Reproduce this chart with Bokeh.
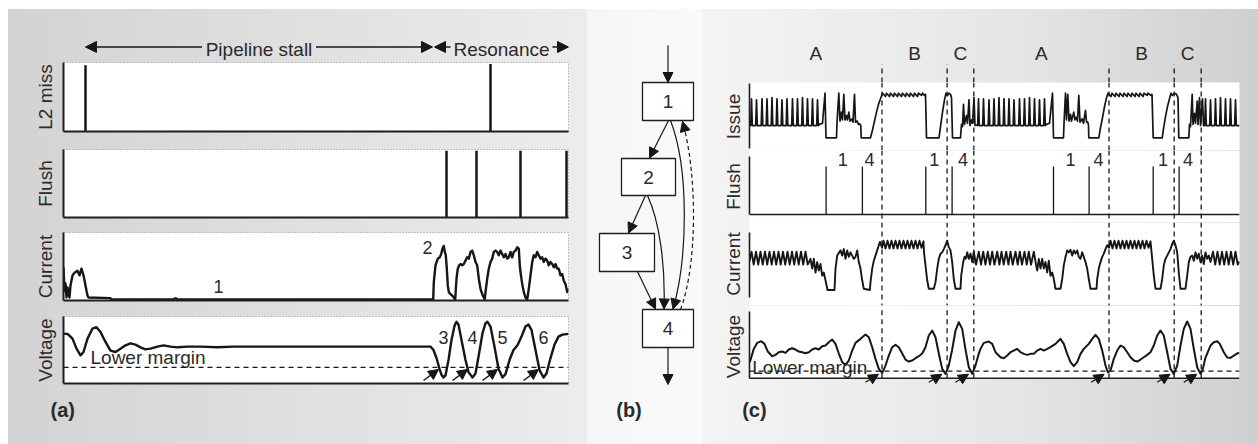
import numpy as np
from bokeh.plotting import figure
from bokeh.layouts import row, column
from bokeh.models import (Range1d, FixedTicker, LinearAxis, Arrow, NormalHead,
                          Span, Spacer, BoxAnnotation)
from bokeh.core.properties import value
from bokeh.embed import file_html
from bokeh.resources import INLINE

FONT = "Liberation Sans"
INK = "#161616"
TXT = "#2a2a2a"
AXC = "#1e1e1e"

# ======================= DATA =======================
# ---- panel (a): time (arbitrary cycles), signals normalised 0..1
a_t_span = [0, 505]
a_l2_miss_t = [22, 427]
a_l2_miss_v = [0.96, 0.98]
a_flush_t = [383, 413, 457, 503]
a_flush_v = [0.98, 0.98, 0.98, 0.98]
a_phase_names = ["Pipeline stall", "Resonance"]
a_phase_start = [22, 371]
a_phase_end = [369, 505]
a_current_pts = [(0,0.48),(1,0.13),(2,0.24),(3,0.03),(4,0.18),(6,0.03),(7,0.21),(9,0.36),(11,0.40),
    (14,0.43),(16,0.36),(18,0.46),(20,0.36),(22,0.21),(23,0.13),(24,0.06),(25,0.03),(47,0.02),(48,0),
    (110,0),(111,0.015),(113,0.015),(114,0),(369.7,0),(370.3,0.26),(372,0.51),(374.3,0.61),(376.3,0.63),
    (377.7,0.68),(379,0.76),(380.3,0.80),(381.3,0.71),(382.3,0.66),(383.3,0.46),(384.3,0.21),(385.3,0.11),
    (387,0.08),(388.7,0.06),(390.3,0.03),(391.7,0),(393,0.31),(394.3,0.46),(395.7,0.51),(397,0.53),
    (398.7,0.51),(400.3,0.53),(402,0.58),(403.7,0.63),(405.3,0.61),(407,0.71),(408.7,0.73),(410.3,0.66),
    (412,0.56),(413.7,0.51),(415.3,0.31),(417,0.16),(418.7,0.08),(420.3,0.03),(421.3,0),(422,0.11),
    (423.7,0.31),(425.3,0.46),(427,0.56),(428.7,0.61),(430.3,0.71),(432,0.73),(433.7,0.71),(435.3,0.66),
    (437,0.73),(438.7,0.68),(440.3,0.63),(442,0.68),(443.7,0.61),(445.3,0.63),(447,0.71),(448.7,0.63),
    (450.3,0.71),(452,0.73),(453.7,0.78),(455.3,0.76),(456.3,0.51),(457,0.41),(458.7,0.23),(460.3,0.11),
    (462,0.03),(463.7,0),(465.3,0.16),(467,0.36),(468.7,0.56),(470.3,0.66),(472,0.63),(473.7,0.71),
    (475.3,0.66),(477,0.61),(478.7,0.63),(480.3,0.56),(482,0.61),(483.7,0.58),(485.3,0.51),(487,0.56),
    (488.7,0.53),(490.3,0.48),(492,0.53),(493.7,0.46),(495.3,0.46),(497,0.36),(498.7,0.38),(500.3,0.28),
    (502,0.23),(503.7,0.11),(504.7,0.16)]
a_current_notes = ["1", "2"]
a_current_note_t = [155, 364]
a_current_note_v = [0.19, 0.78]
a_voltage_pts = [(0,0.74),(4,0.74),(9,0.67),(13,0.52),(17,0.42),(20,0.47),(24,0.67),(29,0.82),(33,0.84),
    (37,0.77),(42,0.62),(47,0.49),(52,0.47),(57,0.52),(62,0.57),(67,0.60),(72,0.58),(77,0.54),(82,0.51),
    (87,0.52),(94,0.55),(100,0.57),(107,0.55),(114,0.54),(124,0.55),(137,0.55),(154,0.54),(170,0.55),
    (367,0.55),(370,0.50),(373,0.38),(376,0.22),(378,0.13),(380,0.09),(382,0.12),(385,0.35),(388,0.65),
    (391,0.86),(393,0.92),(395,0.88),(398,0.65),(402,0.35),(405,0.17),(409,0.09),(412,0.15),(415,0.40),
    (419,0.75),(422,0.90),(424,0.92),(427,0.85),(431,0.55),(435,0.22),(439,0.09),(442,0.14),(446,0.35),
    (450,0.50),(454,0.57),(458,0.70),(462,0.85),(465,0.88),(468,0.80),(472,0.50),(476,0.20),(480,0.09),
    (483,0.15),(487,0.38),(491,0.58),(495,0.70),(499,0.73),(505,0.74)]
a_lower_margin = 0.24
a_violation_t = [380, 409, 439, 480]
a_violation_notes = ["3", "4", "5", "6"]

# ---- panel (c): repeating A/B/C program phases
c_t_span = [0, 490]
c_phase_bounds = [0, 132.5, 197.6, 224.3, 359.5, 424.7, 451.7]
c_phase_names = ["A", "B", "C", "A", "B", "C"]
c_issue_spike_t = [2, 7, 12.5, 17.5, 22.5, 27.5, 32.5, 37.5, 43, 48, 53, 58, 63, 68,
                   229, 234, 239.5, 244.5, 249.5, 254.5, 259.5, 264.5, 270, 275, 280, 285, 290, 295,
                   456, 461, 466, 471, 476, 481, 486]
c_issue_spike_v = [3.5, 3.4, 3.5, 3.5, 3.6, 3.5, 3.4, 3.5, 3.5, 3.5, 3.6, 3.5, 3.5, 3.4,
                   3.5, 3.5, 3.4, 3.5, 3.6, 3.5, 3.5, 3.4, 3.5, 3.5, 3.6, 3.5, 3.4, 3.5,
                   3.5, 3.4, 3.5, 3.6, 3.5, 3.5, 3.4]
c_issue_trough = 1.1
c_issue_pts = [(0,1.1),(70,1.2),(73,1.3),(75.5,4.0),(76.5,0),(87,0),(87.5,1.3),(89.3,4.0),(90.5,1.5),
    (92,2.3),(93,1.6),(94.3,3.9),(95.5,1.6),(97,2.0),(98,1.6),(99.3,2.3),(100.5,1.5),(102.7,1.7),
    (103.5,1.4),(105,3.9),(106,1.4),(107.7,1.5),(109,1.2),(110.3,1.25),(111.3,1.1),(111.7,0),(121,0),
    (123,0.7),(125,1.5),(127,2.3),(129,3.0),(131,3.5),(133,4.0),(136,3.7),(137,4.0),(140,3.7),(141,4.0),
    (144,3.7),(145,4.0),(148,3.7),(149,4.0),(152,3.7),(153,4.0),(156,3.7),(157,4.0),(160,3.7),(161,4.0),
    (164,3.7),(165,4.0),(168,3.7),(169,4.0),(172,3.8),(173,4.0),(175,3.8),(176,3.9),(177,0),(189.5,0),
    (191,1.0),(193,2.3),(195,3.4),(196.5,4.0),(198,3.8),(199.5,4.0),(201,3.9),(202,3.6),(203,0),(211,0),
    (212,1.2),(213,1.0),(214,3.0),(215,1.2),(217,2.0),(218,1.3),(219.5,3.4),(220.5,1.1),(222,1.6),
    (223,1.3),(224.5,3.6),(225.5,1.1),(227.5,1.15),
    (297,1.2),(300,1.3),(303,4.0),(304,0),(314,0),(314.5,1.3),(316,4.0),(317,1.6),(318.3,3.9),(319.5,1.5),
    (321,2.1),(322,1.5),(324.3,2.3),(325.5,1.6),(327,1.85),(328,1.5),(329.3,3.8),(330.5,1.4),(332.7,1.7),
    (334,1.3),(336,2.45),(337,1.4),(338.3,1.4),(339,1.1),(339.3,0),(349.3,0),(351,0.9),(353,1.8),(355,2.8),
    (357,3.6),(358.5,4.0),(361.5,3.7),(362.5,4.0),(365.5,3.7),(366.5,4.0),(369.5,3.7),(370.5,4.0),
    (373.5,3.7),(374.5,4.0),(377.5,3.7),(378.5,4.0),(381.5,3.7),(382.5,4.0),(385.5,3.7),(386.5,4.0),
    (389.5,3.7),(390.5,4.0),(393.5,3.7),(394.5,4.0),(397.5,3.8),(398.5,4.0),(401.5,3.8),(402.5,3.9),
    (403.7,0),(412.7,0),(414,0.8),(416,1.9),(418,2.8),(420,3.5),(421.5,4.0),(423,3.8),(425,4.0),(427,3.9),
    (428.5,3.6),(429.3,0),(439.3,0),(440,1.2),(441,1.0),(442.7,3.9),(443.5,1.2),(445,2.2),(446,1.3),
    (447.7,3.3),(448.5,1.2),(450,3.6),(451,1.1),(453,3.5),(454,1.1),(490,1.1)]
c_flush_t = [76.6, 112.9, 176.3, 202.6, 304, 339.6, 403.7, 429.6]
c_flush_notes = ["1", "4", "1", "4", "1", "4", "1", "4"]
c_flush_note_t = [93.3, 120, 184.8, 213.6, 321, 348.9, 413.6, 438.5]
c_current_peak_t = [2, 6.5, 11, 15.5, 20, 24.5, 29, 33.5, 38, 42.5, 47, 51.5, 56,
                    224.3, 229.3, 233.7, 238.3, 242.7, 247.7, 252, 256.7, 261, 266, 270.3, 275, 279.3, 284.3,
                    463.5, 468, 472.5, 477, 481.5, 486]
c_current_peak = 0.70
c_current_trough = 0.50
c_current_pts = [(0,0.55),
    (61,0.59),(62.7,0.44),(64.3,0.59),(66,0.38),(67.7,0.54),(69.3,0.41),(71,0.51),(72.7,0.33),(74.3,0.38),
    (76,0.26),(78,0.11),(85,0.11),(86,0.44),(87.7,0.64),(91,0.72),(92.7,0.64),(94.3,0.74),(96,0.59),
    (97.7,0.72),(99.3,0.62),(101,0.69),(104.3,0.59),(106,0.62),(107.7,0.72),(109.3,0.54),(111,0.44),
    (112.7,0.26),(114.3,0.13),(120.3,0.11),(121,0.23),(122.7,0.44),(124.3,0.56),(126,0.64),(127.7,0.72),
    (129.3,0.80),(130.5,0.85),(132.5,0.76),(134,0.87),(136,0.75),(138,0.87),(140,0.75),(142,0.87),
    (144,0.75),(146,0.87),(148,0.75),(150,0.87),(152,0.75),(154,0.87),(156,0.75),(158,0.87),(160,0.75),
    (162,0.87),(164,0.75),(166,0.87),(168,0.75),(170,0.87),(172,0.76),(174,0.86),(174.5,0.69),(176,0.49),
    (177.7,0.26),(179.3,0.13),(184.3,0.13),(186,0.23),(187.7,0.44),(189.3,0.59),(191,0.67),(192.7,0.69),
    (194.3,0.74),(196,0.80),(197.7,0.87),(199.3,0.77),(201,0.72),(202.7,0.54),(204.3,0.28),(206,0.13),
    (211,0.13),(211.7,0.33),(213.7,0.54),(215,0.62),(216.3,0.59),(217.7,0.69),(219.3,0.59),(221,0.67),
    (222.7,0.54),
    (287.7,0.41),(289.3,0.59),(291,0.44),(292.7,0.59),(294.3,0.44),(296,0.54),(297.7,0.38),(299.3,0.56),
    (301,0.33),(302.7,0.38),(304.3,0.28),(306,0.13),(311,0.13),(312.7,0.28),(314.3,0.49),(316,0.62),
    (317.7,0.72),(319.3,0.69),(321,0.73),(322.7,0.64),(324.3,0.72),(326,0.67),(327.7,0.72),(329.3,0.62),
    (331,0.59),(332.7,0.69),(334.3,0.62),(336,0.54),(337.7,0.44),(339.3,0.28),(341,0.13),(347,0.13),
    (347.7,0.28),(349.3,0.44),(351,0.54),(352.7,0.62),(354.3,0.67),(356,0.74),(357.7,0.80),(359.5,0.76),
    (361,0.87),(363,0.75),(365,0.87),(367,0.75),(369,0.87),(371,0.75),(373,0.87),(375,0.75),(377,0.87),
    (379,0.75),(381,0.87),(383,0.75),(385,0.87),(387,0.75),(389,0.87),(391,0.75),(393,0.87),(395,0.75),
    (397,0.87),(399,0.76),(401,0.86),(402.7,0.59),(404.3,0.33),(406,0.13),(411,0.13),(412.7,0.28),
    (414.3,0.49),(416,0.59),(417.7,0.64),(419.3,0.69),(421,0.74),(422.7,0.82),(424.3,0.87),(426,0.80),
    (427.7,0.69),(429.3,0.38),(431,0.13),(436,0.13),(437.7,0.33),(439.3,0.54),(441,0.62),(442.7,0.64),
    (444.3,0.56),(446,0.69),(447.7,0.59),(449.3,0.67),(451,0.54),(452.7,0.64),(454.3,0.51),(456,0.69),
    (457.7,0.59),(459.3,0.64),(461,0.54),(490,0.55)]
c_voltage_pts = [(0.3,0.24),(4.3,0.44),(7.7,0.53),(11.7,0.555),(15,0.515),(18.3,0.40),(22.7,0.33),(26,0.35),
    (29.3,0.39),(32.7,0.40),(36,0.38),(39.3,0.43),(42.7,0.45),(46,0.43),(49.3,0.40),(52.7,0.39),(56,0.375),
    (59.3,0.39),(62.7,0.43),(66,0.45),(69.3,0.43),(72.7,0.48),(76,0.49),(79.3,0.54),(82.7,0.58),(86,0.515),
    (89.3,0.37),(92.7,0.24),(96,0.20),(99.3,0.265),(102.7,0.415),(106,0.53),(111,0.59),(116,0.655),
    (119.3,0.615),(122.7,0.465),(126,0.29),(129.3,0.14),(132.7,0.08),(136,0.19),(139.3,0.34),(142.7,0.465),
    (146,0.50),(149.3,0.465),(152.7,0.37),(156,0.28),(159.3,0.25),(162.7,0.265),(166,0.30),(169.3,0.33),
    (172.7,0.37),(176,0.465),(179.3,0.64),(182.7,0.715),(186,0.615),(189.3,0.37),(192.7,0.14),(196,0.066),
    (199.3,0.19),(202.7,0.43),(206,0.715),(209.3,0.84),(212.7,0.74),(216,0.43),(219.3,0.165),(222.7,0.066),
    (226,0.19),(229.3,0.37),(231,0.44),(234.3,0.53),(239.3,0.55),(242.7,0.515),(246,0.39),(251,0.315),
    (254.3,0.30),(257.7,0.34),(261,0.39),(264.3,0.415),(267.7,0.44),(271,0.39),(274.3,0.365),(277.7,0.35),
    (281,0.365),(284.3,0.365),(287.7,0.415),(291,0.44),(294.3,0.415),(297.7,0.44),(301,0.465),(306,0.515),
    (309.3,0.565),(311,0.59),(314.3,0.515),(317.7,0.365),(321,0.24),(324.3,0.18),(327.7,0.24),(331,0.365),
    (334.3,0.44),(339.3,0.515),(342.7,0.59),(346,0.65),(349.3,0.59),(352.7,0.415),(356,0.19),(358.3,0.09),
    (361,0.115),(364.3,0.29),(367.7,0.415),(371,0.49),(374.3,0.465),(377.7,0.39),(381,0.315),(384.3,0.265),
    (387.7,0.25),(391,0.28),(394.3,0.315),(397.7,0.35),(401,0.39),(404.3,0.49),(407.7,0.64),(411,0.715),
    (414.3,0.64),(417.7,0.39),(421,0.14),(424.3,0.066),(427.7,0.19),(431,0.49),(434.3,0.74),(437.7,0.85),
    (441,0.74),(444.3,0.44),(447.7,0.165),(451,0.066),(453,0.12),(456,0.31),(461,0.49),(464.3,0.54),
    (467.7,0.555),(470.3,0.515),(474.3,0.39),(477.7,0.31),(481,0.305),(484.3,0.34),(488.3,0.375),(490,0.38)]
c_lower_margin = 0.105
c_violation_t = [132.7, 196, 222.7, 358.3, 424.3, 451]

# ---- panel (b): control-flow diagram
b_nodes = ["1", "2", "3", "4"]
b_edges_straight = [("in", "1"), ("1", "2"), ("2", "3"), ("3", "4"), ("4", "out")]
b_edges_curved = [("2", "4", "solid"), ("1", "4", "solid"), ("4", "1", "dashed")]
panel_labels = ["(a)", "(b)", "(c)"]

# ======================= LAYOUT / STYLE =======================
b_node_x = [80.5, 61, 39.5, 80.5]
b_node_y = [92, 167.5, 243, 319]
b_node_w = [51, 54, 55, 51]
b_node_h = [38, 37, 38, 38]
b_straight_geom = [(80.5, 36, 80.5, 73), (81, 111, 62, 148.5), (58, 186, 41, 223.5),
                   (50, 262, 68, 299.5), (80.5, 338, 80.5, 375)]
b_curve_geom = [(60, 186, 72, 212, 78, 255, 76.5, 299.5),
                (83, 111, 102, 160, 100, 250, 85.5, 299.5),
                (93, 300, 110, 255, 110, 165, 95, 112)]
label_x = [42, 620.5, 733.7]
label_align = ["left", "center", "left"]


def bare_fig(w, h, xr, yr, left=0, right=0, top=0, bottom=0, bg=None, outline=None):
    p = figure(width=w, height=h, x_range=xr, y_range=yr, output_backend="svg",
               toolbar_location=None, x_axis_location=None, y_axis_location=None,
               min_border_left=left, min_border_right=right, min_border_top=top,
               min_border_bottom=bottom, background_fill_color=bg, border_fill_color=None,
               outline_line_color=outline)
    p.grid.visible = False
    return p


def add_axis(p, side, label=None, bounds=None, width=2.0, standoff=8):
    ax = LinearAxis(ticker=FixedTicker(ticks=[]), major_tick_in=0, major_tick_out=0,
                    minor_tick_in=0, minor_tick_out=0, major_label_text_font_size="0px",
                    major_label_standoff=0, axis_line_color=AXC, axis_line_width=width)
    if bounds is not None:
        ax.bounds = bounds
    if label:
        ax.axis_label = label
        ax.axis_label_text_font = FONT
        ax.axis_label_text_font_size = "19px"
        ax.axis_label_text_font_style = "normal"
        ax.axis_label_text_color = TXT
        ax.axis_label_standoff = standoff
    p.add_layout(ax, side)


def txt(p, xs, ys, texts, size="19px", align="center", bold=False, x_offset=0):
    p.text(x=xs, y=ys, text=texts, text_font=value(FONT), text_font_size=value(size),
           text_align=align, text_baseline="middle", text_color=TXT,
           text_font_style="bold" if bold else "normal", x_offset=x_offset)


def arrow(p, x0, y0, x1, y1, size=10, width=1.5):
    p.add_layout(Arrow(end=NormalHead(size=size, fill_color=INK, line_color=INK, line_width=1),
                       x_start=x0, y_start=y0, x_end=x1, y_end=y1,
                       line_color=INK, line_width=width))


def xy(pts):
    return [p[0] for p in pts], [p[1] for p in pts]


# ---------------- panel (a) ----------------
AW, AL, AR = 579, 55, 19
a_x = Range1d(*a_t_span)

headA = bare_fig(AW, 51, a_x, Range1d(0, 1), AL, AR, 0, 0)
half_w = [57, 51]
for name, s, e, hw in zip(a_phase_names, a_phase_start, a_phase_end, half_w):
    mid = (s + e) / 2
    txt(headA, [mid], [0.22], [name])
    arrow(headA, mid - hw, 0.265, s, 0.265, size=11, width=1.6)
    arrow(headA, mid + hw, 0.265, e, 0.265, size=11, width=1.6)


def a_sub(h, top, bottom, yr, label):
    p = bare_fig(AW, h, a_x, yr, AL, AR, top, bottom, bg="white", outline="#8a8a8a")
    p.outline_line_dash = "1 2"
    p.outline_line_width = 1
    add_axis(p, "left", label, standoff=8)
    add_axis(p, "below")
    return p


l2 = a_sub(88, 2, 17, Range1d(0, 1), "L2 miss")
l2.segment(x0=a_l2_miss_t, y0=0, x1=a_l2_miss_t, y1=a_l2_miss_v, line_color=INK, line_width=2.5)

flA = a_sub(82, 1, 13, Range1d(0, 1), "Flush")
flA.segment(x0=a_flush_t, y0=0, x1=a_flush_t, y1=a_flush_v, line_color=INK, line_width=2.5)

curA = a_sub(84, 2, 14, Range1d(-0.015, 1.0), "Current")
t, v = xy(a_current_pts)
curA.line(t, v, line_color=INK, line_width=2.4, line_join="round")
txt(curA, a_current_note_t, a_current_note_v, a_current_notes, size="18px")

volA = a_sub(73, 2, 4, Range1d(0, 1), "Voltage")
volA.add_layout(Span(location=a_lower_margin, dimension="width", line_color=INK,
                     line_dash="5 4", line_width=1.3))
t, v = xy(a_voltage_pts)
volA.line(t, v, line_color=INK, line_width=2.4, line_join="round")
txt(volA, [27], [0.385], ["Lower margin"], align="left")
txt(volA, a_violation_t, [0.69] * len(a_violation_t), a_violation_notes, size="18px")
for tv in a_violation_t:
    arrow(volA, tv - 20, 0.045, tv - 5, 0.21, size=10, width=1.5)

colA = column(headA, l2, flA, curA, volA)

# ---------------- panel (b) ----------------
diag = bare_fig(115, 378, Range1d(0, 115), Range1d(378, 0))
diag.rect(x=b_node_x, y=b_node_y, width=b_node_w, height=b_node_h, fill_color="white",
          line_color=AXC, line_width=1.3)
txt(diag, b_node_x, b_node_y, b_nodes)
for (x0, y0, x1, y1) in b_straight_geom:
    arrow(diag, x0, y0, x1, y1, size=10, width=1.2)
for (sx, sy, c0x, c0y, c1x, c1y, ex, ey), (_, _, style) in zip(b_curve_geom, b_edges_curved):
    diag.bezier(x0=[sx], y0=[sy], x1=[ex], y1=[ey], cx0=[c0x], cy0=[c0y], cx1=[c1x], cy1=[c1y],
                line_color=INK, line_width=1.2, line_dash="4 3" if style == "dashed" else "solid")
    hx, hy = ex - 0.12 * (ex - c1x), ey - 0.12 * (ey - c1y)
    diag.add_layout(Arrow(end=NormalHead(size=10, fill_color=INK, line_color=INK, line_width=1),
                          x_start=hx, y_start=hy, x_end=ex, y_end=ey, line_alpha=0))

# ---------------- panel (c) ----------------
CW, CL, CR = 556, 47, 19
c_x = Range1d(*c_t_span)
c_inner_bounds = c_phase_bounds[1:]

headC = bare_fig(CW, 73, c_x, Range1d(0, 1), CL, CR, 0, 0)
mids = [(a + b) / 2 for a, b in zip(c_phase_bounds, c_phase_bounds[1:])]
txt(headC, mids, [0.40] * len(mids), c_phase_names)
headC.segment(x0=c_inner_bounds, y0=0, x1=c_inner_bounds, y1=0.25, line_color=INK,
              line_dash="5 4", line_width=1.3)


def c_sub(h, yr, label, bounds, bg="white"):
    p = bare_fig(CW, h, c_x, yr, CL, CR, 0, 0, bg=bg)
    add_axis(p, "left", label, bounds=bounds, width=1.6, standoff=6)
    return p


def vlines(p):
    for b in c_inner_bounds:
        p.add_layout(Span(location=b, dimension="height", line_color=INK,
                          line_dash="5 4", line_width=1.3))


iss = c_sub(68, Range1d(-1.14, 4.96), "Issue", (-0.96, 4.87))
pts = list(c_issue_pts)
for tp, vp in zip(c_issue_spike_t, c_issue_spike_v):
    pts += [(tp - 0.8, c_issue_trough), (tp, vp), (tp + 0.8, c_issue_trough)]
pts.sort(key=lambda q: q[0])
t, v = xy(pts)
iss.line(t, v, line_color=INK, line_width=1.7, line_join="round")
vlines(iss)

flC = c_sub(72, Range1d(-0.167, 1.333), "Flush", (0, 1.21))
flC.segment(x0=c_flush_t, y0=0, x1=c_flush_t, y1=1.0, line_color=INK, line_width=1.3)
flC.add_layout(Span(location=0, dimension="width", line_color=AXC, line_width=1.6))
txt(flC, c_flush_note_t, [1.15] * len(c_flush_note_t), c_flush_notes, size="18px")
vlines(flC)

curC = c_sub(83, Range1d(-0.128, 1.149), "Current", (0, 1))
pts = list(c_current_pts)
for tp in c_current_peak_t:
    pts += [(tp, c_current_peak), (tp + 2.2, c_current_trough)]
pts.sort(key=lambda q: q[0])
t, v = xy(pts)
curC.line(t, v, line_color=INK, line_width=1.9, line_join="round")
vlines(curC)

volC = c_sub(82, Range1d(-0.139, 1.09), "Voltage", (0, 1.0), bg=None)
volC.add_layout(BoxAnnotation(bottom=0, fill_color="white", fill_alpha=1.0, line_alpha=0,
                              level="underlay"))
volC.segment(x0=c_inner_bounds, y0=0, x1=c_inner_bounds, y1=1.09, line_color=INK,
             line_dash="5 4", line_width=1.3)
volC.add_layout(Span(location=c_lower_margin, dimension="width", line_color=INK,
                     line_dash="5 4", line_width=1.3))
volC.add_layout(Span(location=0, dimension="width", line_color=AXC, line_width=1.6))
t, v = xy(c_voltage_pts)
volC.line(t, v, line_color=INK, line_width=2.0, line_join="round")
txt(volC, [2.7], [0.16], ["Lower margin"], align="left")
for tv in c_violation_t:
    arrow(volC, tv - 16.7, -0.06, tv - 3.7, 0.06, size=10, width=1.3)

colC = column(headC, iss, flC, curC, volC)

# ---------------- panel labels ----------------
foot = bare_fig(1250, 57, Range1d(0, 1250), Range1d(0, 1))
for lab, lx, al in zip(panel_labels, label_x, label_align):
    txt(foot, [lx], [0.6], [lab], size="20px", align=al, bold=True)

grad = ("linear-gradient(to right, #d3d3d3 0px, #ececec 579px, #f6f6f6 579px, "
        "#fafafa 694px, #f4f4f4 694px, #e6e6e6 1000px, #cfcfcf 1250px)")
inner = column(row(colA, diag, colC), foot, styles={"background": grad})
page = column(Spacer(width=1258, height=9), row(Spacer(width=8, height=435), inner))

open("out.html", "w").write(file_html(page, INLINE))
